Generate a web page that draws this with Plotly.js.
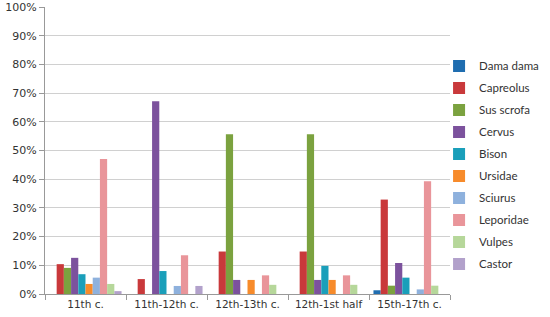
<!DOCTYPE html>
<html>
<head>
<meta charset="UTF-8">
<script src="https://cdn.plot.ly/plotly-3.0.1.min.js"></script>
<style>
  body { margin: 0; background: #fff; }
  #chart { width: 550px; height: 317px; }
</style>
</head>
<body>
<div id="chart"></div>
<script>
// periods on the x axis
const periods = ['11th c.', '11th-12th c.', '12th-13th c.', '12th-1st half', '15th-17th c.'];

// share of each taxon per period (%)
const damaDama  = [0, 0, 0, 0, 1.3];
const capreolus = [10.4, 5.2, 14.8, 14.8, 32.9];
const susScrofa = [9.1, 0, 55.7, 55.7, 2.9];
const cervus    = [12.6, 67.2, 4.9, 4.9, 10.8];
const bison     = [6.9, 8.0, 0, 9.8, 5.7];
const ursidae   = [3.5, 0, 4.9, 4.9, 0];
const sciurus   = [5.7, 2.8, 0, 0, 1.6];
const leporidae = [47.0, 13.5, 6.5, 6.5, 39.3];
const vulpes    = [3.5, 0, 3.2, 3.2, 2.9];
const castor    = [1.0, 2.8, 0, 0, 0];

const names  = ['Dama dama', 'Capreolus', 'Sus scrofa', 'Cervus', 'Bison', 'Ursidae', 'Sciurus', 'Leporidae', 'Vulpes', 'Castor'];
const series = [damaDama, capreolus, susScrofa, cervus, bison, ursidae, sciurus, leporidae, vulpes, castor];
const colors = ['#1f6db0', '#c9393b', '#7ba23f', '#7c529d', '#1a9fba', '#f78b2b', '#8eb1dd', '#e9959a', '#b6d79a', '#b2a1cb'];

const traces = series.map((vals, i) => ({
    type: 'bar',
    name: names[i],
    x: periods,
    y: vals,
    legendgroup: 'g' + i,
    marker: { color: colors[i] },
    hoverinfo: 'name+y'
}));

const layout = {
    width: 550,
    height: 317,
    margin: { l: 45, r: 100, t: 7, b: 23, autoexpand: false },
    paper_bgcolor: '#fff',
    plot_bgcolor: '#fff',
    barmode: 'group',
    bargap: 0.11,
    bargroupgap: 0,
    font: { family: 'DejaVu Sans, Verdana, sans-serif', size: 11, color: '#333' },
    xaxis: {
        tickson: 'boundaries',
        ticks: 'outside',
        ticklen: 5,
        tickcolor: '#999',
        tickangle: 0,
        showline: true,
        linecolor: '#999',
        showgrid: false,
        tickfont: { size: 10.5, color: '#333' }
    },
    yaxis: {
        range: [0, 100],
        dtick: 10,
        ticksuffix: '%',
        ticks: 'outside',
        ticklen: 5,
        tickcolor: '#999',
        showline: true,
        linecolor: '#999',
        gridcolor: '#d0d0d0',
        zeroline: false,
        tickfont: { size: 11, color: '#333' }
    },
    legend: {
        x: 0.973,
        xanchor: 'left',
        y: 0.845,
        yanchor: 'top',
        bgcolor: 'rgba(0,0,0,0)',
        tracegroupgap: 3,
        font: { family: 'Lato, sans-serif', size: 11.5, color: '#333' }
    },
    showlegend: true
};

Plotly.newPlot('chart', traces, layout, { displayModeBar: false, staticPlot: true });
</script>
</body>
</html>
